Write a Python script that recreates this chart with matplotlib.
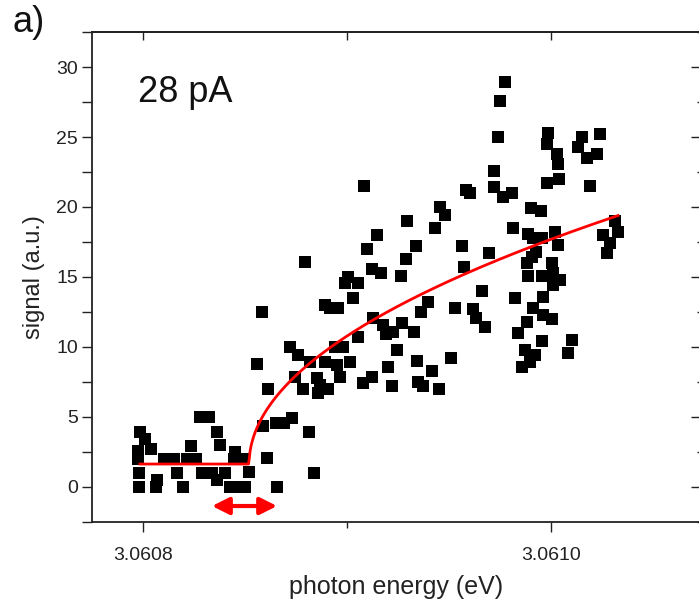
import numpy as np
import matplotlib
matplotlib.use("Agg")
import matplotlib.pyplot as plt
from matplotlib.ticker import MultipleLocator, FixedLocator

plt.rcParams['font.family'] = ['Liberation Sans', 'DejaVu Sans']

# photon energy given as offset from 3.0608 eV, in micro-eV
E0 = 3.0608
offset_ueV = [
    # below threshold
    -1.5, 1.0, 3.9, -2.5, -2.5, 10.3, 15.2, 23.5, 21.6, 26.0, 27.9, 32.4, 36.3, 37.7,
    45.1, 44.6, 49.0, -2.0, 16.7, 28.9, 33.8, 36.3, 40.2, 52.0, 6.9, -2.0, 6.4, 19.6,
    42.6, 46.6, 50.0, 60.8, 65.7, 58.8, 65.2, 69.1, 73.0, 55.9, 58.3, 61.3, 81.4, 83.8,
    # middle
    108.3, 114.7, 109.8, 79.4, 112.3, 116.7, 126.5, 100.5, 99.0, 105.4, 102.9, 89.2,
    91.7, 95.6, 112.7, 117.6, 119.1, 122.5, 127.0, 105.4, 72.1, 76.0, 94.1, 98.0, 124.5,
    81.9, 89.2, 95.1, 101.5, 120.1, 74.5, 85.3, 86.8, 90.7, 85.8, 96.6, 112.3, 107.8,
    122.1, 78.4,
    # right middle
    172.1, 158.3, 160.3, 172.1, 176.5, 180.9, 145.6, 148.0, 143.1, 129.4, 181.4, 133.8,
    156.4, 169.6, 128.9, 157.4, 166.2, 139.7, 136.3, 152.9, 161.8, 163.2, 167.6, 182.4,
    132.8, 183.8, 151.0, 134.3, 141.7, 134.8, 137.3, 145.1, 185.8,
    # right
    177.5, 175.0, 174.0, 198.5, 198.0, 202.9, 203.4, 198.0, 203.9, 215.2, 213.2, 224.0,
    222.5, 217.6, 219.1, 190.2, 195.1, 188.7, 191.2, 195.6, 202.0, 203.4, 192.6, 190.7,
    188.2, 200.5, 188.7, 195.6, 201.0, 204.4, 201.0, 196.1, 191.2, 196.1, 200.5, 188.2,
    195.6, 210.3, 187.3, 192.2, 208.3, 189.7, 231.4, 232.8, 225.5, 228.9, 227.5,
]
signal = [
    3.9, 3.4, 2.7, 2.6, 2.0, 2.0, 2.0, 2.9, 2.0, 2.0, 5.0, 5.0, 3.9, 3.0,
    2.5, 2.0, 2.0, 1.0, 1.0, 1.0, 1.0, 0.5, 1.0, 1.1, 0.5, 0.0, 0.0, 0.0,
    0.0, 0.0, 0.0, 2.1, 0.0, 4.35, 4.6, 4.6, 4.9, 8.8, 12.5, 7.0, 3.9, 1.0,
    21.5, 18.0, 17.0, 16.1, 15.6, 15.3, 15.1, 15.0, 14.6, 14.55, 13.5, 13.0,
    12.8, 12.8, 12.05, 11.6, 10.9, 11.1, 11.7, 10.7, 10.0, 9.4, 10.0, 10.0, 9.8,
    8.9, 8.9, 8.7, 8.9, 8.6, 7.85, 7.8, 7.3, 7.0, 6.7, 7.85, 7.85, 7.4,
    7.2, 7.0,
    22.6, 21.2, 21.0, 21.4, 20.7, 21.0, 20.0, 19.4, 18.5, 19.0, 18.5, 17.2,
    17.2, 16.7, 16.3, 15.7, 14.0, 13.2, 12.5, 12.8, 12.7, 12.05, 11.4, 13.5,
    11.1, 11.0, 9.2, 9.0, 8.3, 7.5, 7.2, 7.0, 8.6,
    28.9, 27.6, 25.0, 25.3, 24.5, 23.8, 23.1, 21.75, 22.0, 25.0, 24.3, 25.25,
    23.8, 23.5, 21.5, 19.9, 19.7, 18.1, 17.8, 17.8, 18.2, 17.3, 16.8, 16.4,
    16.0, 16.0, 15.05, 15.05, 15.3, 14.8, 14.4, 13.6, 12.8, 12.3, 12.0, 11.8,
    10.4, 10.5, 9.8, 9.4, 9.6, 8.9, 19.0, 18.2, 18.0, 17.4, 16.7,
]

# threshold fit: flat background, then square-root rise
fit_start_ueV = -1.5
fit_end_ueV = 232.8
threshold_ueV = 52.0
background = 1.64
amplitude = 1.32  # per sqrt(ueV)

# resolution arrow (ueV) and its height
arrow_from_ueV = 33.8
arrow_to_ueV = 65.7
arrow_y = -1.36

energy = E0 + np.array(offset_ueV) * 1e-6

fig = plt.figure(figsize=(6.99, 6.04), dpi=100)
ax = fig.add_axes([0.1316, 0.1358, 0.8714, 0.8112])

ax.plot(energy, signal, 's', color='black', markersize=8.2, markeredgewidth=0, zorder=3)

fx = np.linspace(fit_start_ueV, fit_end_ueV, 600)
fy = background + amplitude * np.sqrt(np.clip(fx - threshold_ueV, 0, None))
ax.plot(E0 + fx * 1e-6, fy, color='red', lw=2, zorder=4)

ax.annotate('', xy=(E0 + arrow_to_ueV * 1e-6, arrow_y),
            xytext=(E0 + arrow_from_ueV * 1e-6, arrow_y),
            arrowprops=dict(arrowstyle='<|-|>,head_length=0.6,head_width=0.3', color='red',
                            lw=3, mutation_scale=17, shrinkA=0, shrinkB=0))

ax.set_xlim(3.060775, 3.0610735)
ax.set_ylim(-2.5, 32.5)

ax.xaxis.set_major_locator(FixedLocator([3.0608, 3.0610]))
ax.xaxis.set_minor_locator(FixedLocator([3.0609]))
ax.set_xticklabels(['3.0608', '3.0610'])
ax.yaxis.set_major_locator(MultipleLocator(5))
ax.yaxis.set_minor_locator(MultipleLocator(2.5))
ax.set_yticks([0, 5, 10, 15, 20, 25, 30])

ax.tick_params(axis='x', which='major', direction='out', length=7, width=1, labelsize=14,
               pad=11, colors='#222222')
ax.tick_params(axis='x', which='minor', direction='out', length=4, width=1, colors='#222222')
ax.tick_params(axis='y', which='both', direction='out', length=7, width=1, labelsize=14,
               pad=3, colors='#222222')

top = ax.secondary_xaxis('top')
top.xaxis.set_major_locator(FixedLocator([3.0608, 3.0609, 3.0610]))
top.tick_params(direction='in', length=6, width=1, labeltop=False, colors='#222222')
right = ax.secondary_yaxis('right')
right.yaxis.set_major_locator(MultipleLocator(5))
right.yaxis.set_minor_locator(MultipleLocator(2.5))
right.tick_params(which='major', direction='in', length=7, width=1, labelright=False, colors='#222222')
right.tick_params(which='minor', direction='in', length=3, width=1, colors='#222222')

for sp in list(ax.spines.values()) + [top.spines['top'], right.spines['right']]:
    sp.set_linewidth(1.3)
    sp.set_color('#222222')

ax.set_xlabel('photon energy (eV)', fontsize=18, color='#222222', labelpad=8)
ax.set_ylabel('signal (a.u.)', fontsize=17, color='#222222', labelpad=8)

ax.text(0.0755, 0.857, '28 pA', transform=ax.transAxes, fontsize=26, va='baseline',
        color='#111111')
fig.text(0.018, 0.947, 'a)', fontsize=26, va='baseline', color='#111111')

fig.savefig('out.png', dpi=100)
